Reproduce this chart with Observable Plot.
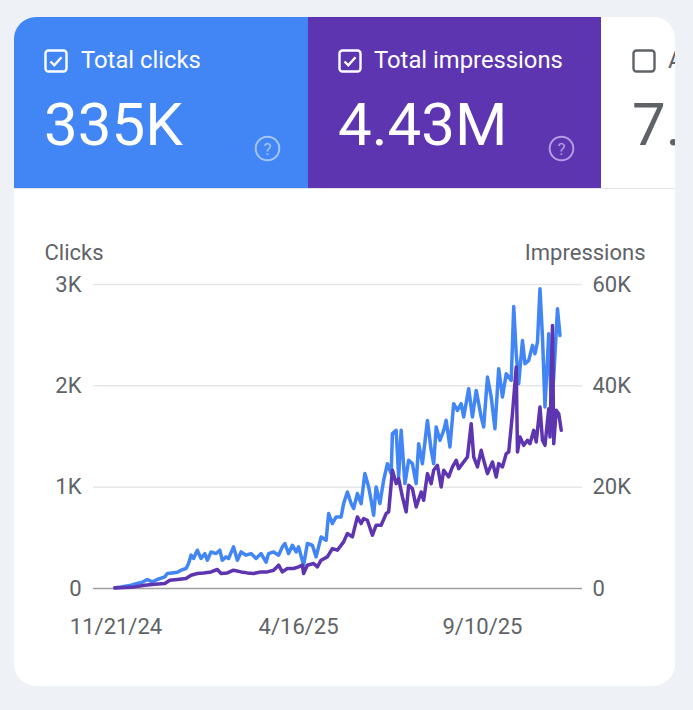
<!DOCTYPE html>
<html><head><meta charset="utf-8">
<script src="https://cdn.jsdelivr.net/npm/d3@7"></script>
<script src="https://cdn.jsdelivr.net/npm/@observablehq/plot@0.6"></script>
<style>
html,body{margin:0;padding:0;}
body{width:693px;height:710px;background:#eef1f6;position:relative;overflow:hidden;font-family:Roboto,"Noto Sans",sans-serif;}
#card{position:absolute;left:14px;top:17px;width:661px;height:669px;background:#fff;border-radius:22px;overflow:hidden;}
.tile{position:absolute;top:0;height:171px;overflow:hidden;}
.cb{position:absolute;top:32px;width:24px;height:24px;}
.lbl{position:absolute;top:31px;font-size:23.8px;line-height:25px;white-space:nowrap;}
.big{position:absolute;top:78px;font-size:60px;line-height:60px;white-space:nowrap;}
.help{position:absolute;top:118px;width:27px;height:27px;}
#sep{position:absolute;left:0;top:171px;width:661px;height:1px;background:#e3e5e8;}
#chart{position:absolute;left:0;top:200px;}
</style></head>
<body>
<div id="card">
  <div class="tile" style="left:0;width:294px;background:#4285f4;color:#fff;">
    <svg class="cb" style="left:30px" viewBox="0 0 24 24"><rect x="1.5" y="1.5" width="21" height="21" rx="3" fill="none" stroke="#fff" stroke-width="2.4"/><path d="M6.5 12.5l3.8 3.8 7.2-8" fill="none" stroke="#fff" stroke-width="2.4"/></svg>
    <div class="lbl" style="left:67px">Total clicks</div>
    <div class="big" style="left:30px">335K</div>
    <svg class="help" style="left:240px" viewBox="0 0 27 27"><circle cx="13.5" cy="13.5" r="11.8" fill="none" stroke="#a6c6fb" stroke-width="2"/><text x="13.5" y="19.5" text-anchor="middle" font-size="17" font-family="Roboto" fill="#a6c6fb">?</text></svg>
  </div>
  <div class="tile" style="left:294px;width:293px;background:#5e35b1;color:#fff;">
    <svg class="cb" style="left:30px" viewBox="0 0 24 24"><rect x="1.5" y="1.5" width="21" height="21" rx="3" fill="none" stroke="#fff" stroke-width="2.4"/><path d="M6.5 12.5l3.8 3.8 7.2-8" fill="none" stroke="#fff" stroke-width="2.4"/></svg>
    <div class="lbl" style="left:66px">Total impressions</div>
    <div class="big" style="left:30px">4.43M</div>
    <svg class="help" style="left:240px" viewBox="0 0 27 27"><circle cx="13.5" cy="13.5" r="11.8" fill="none" stroke="#b49ce0" stroke-width="2"/><text x="13.5" y="19.5" text-anchor="middle" font-size="17" font-family="Roboto" fill="#b49ce0">?</text></svg>
  </div>
  <div class="tile" style="left:587px;width:74px;background:#fff;color:#5f6368;">
    <svg class="cb" style="left:31px" viewBox="0 0 24 24"><rect x="1.5" y="1.5" width="21" height="21" rx="3" fill="none" stroke="#5f6368" stroke-width="2.4"/></svg>
    <div class="lbl" style="left:67px">A</div>
    <div class="big" style="left:31px">7.</div>
  </div>
  <div id="sep"></div>
</div>
<div id="chart"></div>
<script>
const clickDates = ["2024-11-20","2024-11-25","2024-12-03","2024-12-08","2024-12-12","2024-12-16","2024-12-20","2024-12-24","2024-12-30","2025-01-01","2025-01-05","2025-01-09","2025-01-12","2025-01-16","2025-01-18","2025-01-20","2025-01-22","2025-01-25","2025-01-28","2025-01-31","2025-02-02","2025-02-05","2025-02-09","2025-02-12","2025-02-14","2025-02-17","2025-02-19","2025-02-23","2025-02-26","2025-03-01","2025-03-05","2025-03-09","2025-03-13","2025-03-17","2025-03-21","2025-03-23","2025-03-27","2025-03-31","2025-04-03","2025-04-05","2025-04-08","2025-04-11","2025-04-14","2025-04-16","2025-04-20","2025-04-23","2025-04-27","2025-04-30","2025-05-04","2025-05-08","2025-05-10","2025-05-13","2025-05-16","2025-05-20","2025-05-22","2025-05-25","2025-05-28","2025-05-30","2025-06-02","2025-06-05","2025-06-08","2025-06-11","2025-06-13","2025-06-15","2025-06-17","2025-06-20","2025-06-23","2025-06-26","2025-06-29","2025-06-30","2025-07-03","2025-07-05","2025-07-07","2025-07-10","2025-07-13","2025-07-16","2025-07-19","2025-07-21","2025-07-24","2025-07-28","2025-07-31","2025-08-02","2025-08-04","2025-08-07","2025-08-10","2025-08-12","2025-08-15","2025-08-18","2025-08-21","2025-08-24","2025-08-26","2025-08-30","2025-09-02","2025-09-05","2025-09-09","2025-09-11","2025-09-14","2025-09-17","2025-09-20","2025-09-23","2025-09-26","2025-09-29","2025-10-03","2025-10-05","2025-10-07","2025-10-09","2025-10-12","2025-10-14","2025-10-17","2025-10-20","2025-10-22","2025-10-24","2025-10-26","2025-10-28","2025-10-30","2025-11-02","2025-11-04","2025-11-06","2025-11-09","2025-11-11"];
const clicks = [8,14,33,49,62,89,65,89,115,148,154,160,181,197,247,329,296,378,296,345,279,361,345,378,279,312,296,411,279,361,329,345,296,345,260,345,361,329,411,444,345,427,361,411,230,444,427,312,509,476,739,641,706,706,838,953,838,789,937,838,1134,1002,871,723,1002,838,1068,1232,1134,1528,1561,1101,1561,1035,1265,1232,1035,1429,1232,1659,1364,1232,1594,1462,1561,1659,1397,1824,1758,1824,1692,1972,1692,1955,1692,1594,2087,1889,1577,2169,1889,2119,2054,2783,2317,2021,2448,2218,2251,2399,2317,2432,2957,2481,1791,2514,1824,2087,2760,2497];
const imprDates = ["2024-11-20","2024-12-06","2024-12-14","2024-12-22","2024-12-30","2025-01-03","2025-01-09","2025-01-16","2025-01-20","2025-01-25","2025-01-30","2025-02-05","2025-02-10","2025-02-13","2025-02-18","2025-02-23","2025-03-01","2025-03-06","2025-03-11","2025-03-17","2025-03-22","2025-03-27","2025-03-31","2025-04-03","2025-04-07","2025-04-12","2025-04-16","2025-04-19","2025-04-20","2025-04-23","2025-04-28","2025-05-01","2025-05-04","2025-05-09","2025-05-13","2025-05-17","2025-05-22","2025-05-25","2025-05-29","2025-06-02","2025-06-05","2025-06-07","2025-06-10","2025-06-14","2025-06-17","2025-06-21","2025-06-25","2025-06-27","2025-06-30","2025-07-03","2025-07-05","2025-07-08","2025-07-11","2025-07-13","2025-07-16","2025-07-19","2025-07-23","2025-07-25","2025-07-28","2025-07-31","2025-08-02","2025-08-05","2025-08-08","2025-08-10","2025-08-14","2025-08-17","2025-08-20","2025-08-22","2025-08-25","2025-08-29","2025-09-01","2025-09-03","2025-09-06","2025-09-09","2025-09-11","2025-09-14","2025-09-18","2025-09-21","2025-09-23","2025-09-26","2025-09-29","2025-10-01","2025-10-04","2025-10-07","2025-10-08","2025-10-10","2025-10-13","2025-10-16","2025-10-18","2025-10-21","2025-10-23","2025-10-26","2025-10-28","2025-10-30","2025-11-02","2025-11-03","2025-11-05","2025-11-06","2025-11-08","2025-11-10","2025-11-12"];
const impressions = [100,316,651,849,987,1639,1777,1974,2626,2962,3080,3277,3751,2962,3080,3613,3277,3080,2962,3277,3277,3613,4600,3277,3948,3948,4265,4600,2957,4600,4929,4272,5586,6243,7886,7558,9201,10844,10187,14130,12815,13801,13473,10515,12487,12487,14787,15116,23331,20702,21688,18073,15116,20373,19716,16101,19059,17416,22673,20702,23331,24316,20045,23331,22016,23988,25302,23659,24645,25959,32531,25959,23988,27274,25302,22673,24974,22016,24645,23988,26617,26945,34503,43704,26945,29903,28260,29245,28588,31217,28917,35817,29245,28260,35489,29903,51918,28588,35160,34503,31217];
const xTickDates = ["2024-11-21","2025-04-16","2025-09-10"];
const xTickLabels = ["11/21/24","4/16/25","9/10/25"];
const xDomain = ["2024-11-03","2025-11-29"];
const clickTicks = [0,1000,2000,3000];
const clickTickLabels = ["0","1K","2K","3K"];
const imprTickLabels = ["0","20K","40K","60K"];
const clickMax = 3000, imprMax = 60000;

const parse = d3.utcParse("%Y-%m-%d");
const clickData = clickDates.map((d,i)=>({date:parse(d), value:clicks[i]}));
const imprData = imprDates.map((d,i)=>({date:parse(d), value:impressions[i]*clickMax/imprMax}));
const xTicks = xTickDates.map(parse);

const chart = Plot.plot({
  width:693, height:450,
  marginLeft:93, marginRight:111, marginTop:84, marginBottom:62,
  style:{fontFamily:"Roboto, sans-serif", fontSize:"22px", color:"#5f6368", background:"transparent", overflow:"visible"},
  x:{type:"utc", domain:xDomain.map(parse)},
  y:{domain:[0,clickMax]},
  marks:[
    Plot.gridY(clickTicks.slice(1), {stroke:"#e6e6e6", strokeOpacity:1, strokeWidth:1.5}),
    Plot.ruleY([0], {stroke:"#a0a0a0", strokeWidth:1.5}),
    Plot.axisY(clickTicks, {anchor:"left", tickSize:0, tickPadding:12, fill:"#5f6368", fontSize:22, tickFormat:d=>clickTickLabels[clickTicks.indexOf(d)], label:null}),
    Plot.axisY(clickTicks, {anchor:"right", tickSize:0, tickPadding:10, fill:"#5f6368", fontSize:22, tickFormat:d=>imprTickLabels[clickTicks.indexOf(d)], label:null}),
    Plot.axisX(xTicks, {tickSize:0, tickPadding:30, fill:"#5f6368", fontSize:22, tickFormat:d=>xTickLabels[xTicks.findIndex(t=>+t===+d)], label:null}),
    Plot.line(clickData, {x:"date", y:"value", stroke:"#4285f4", strokeWidth:3.5, strokeLinejoin:"round"}),
    Plot.line(imprData, {x:"date", y:"value", stroke:"#5e35b1", strokeWidth:3.5, strokeLinejoin:"round"}),
    Plot.text(["Clicks"], {frameAnchor:"top-left", lineAnchor:"middle", dx:-49, dy:-32, textAnchor:"start", fill:"#5f6368", fontSize:22}),
    Plot.text(["Impressions"], {frameAnchor:"top-right", lineAnchor:"middle", dx:63, dy:-32, textAnchor:"end", fill:"#5f6368", fontSize:22})
  ]
});
document.getElementById("chart").appendChild(chart);
</script>
</body></html>
